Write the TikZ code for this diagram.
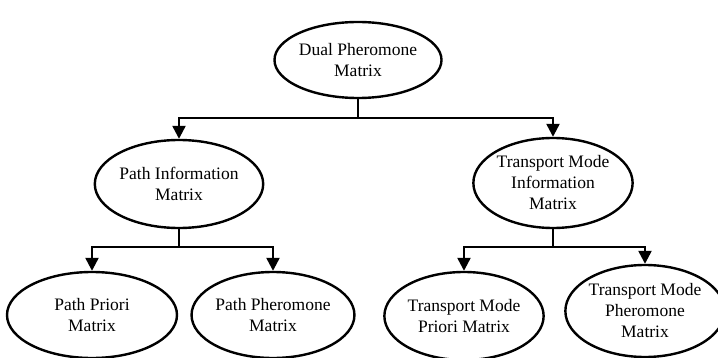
\documentclass[tikz,border=0pt]{standalone}
\usepackage{fontspec}
\setmainfont{Liberation Serif}
\usepackage{tikz}
\usetikzlibrary{arrows.meta}
\usetikzlibrary{shapes.geometric}

\tikzset{
  matbox/.style={draw, ellipse, line width=1.2pt, inner sep=0pt, align=center},
  arr/.style={line width=1.2pt, -{Triangle[length=6.5pt,width=6.5pt]}},
  ln/.style={line width=1.2pt}
}

\begin{document}
\begin{tikzpicture} [x=0.5pt, y=-0.5pt, font=\fontsize{8.75}{10.5}\selectfont]
     \useasboundingbox (0,0) rectangle (718,358);
     \node [matbox, minimum width=71pt, minimum height=38pt] (dual) at (358,60) {Dual Pheromone\\Matrix};
     \node [matbox, minimum width=79pt, minimum height=44pt] (pinfo) at (179,184) {Path Information\\Matrix};
     \node [matbox, minimum width=77.5pt, minimum height=45pt] (tinfo) at (553,183) {Transport Mode\\Information\\Matrix};
     \node [matbox, minimum width=85pt, minimum height=43pt] (ppri) at (92,315) {Path Priori\\Matrix};
     \node [matbox, minimum width=80pt, minimum height=43pt] (pphe) at (273,315) {Path Pheromone\\Matrix};
     \node [matbox, minimum width=79pt, minimum height=44pt] (tpri) at (464,316) {Transport Mode\\Priori Matrix};
     \node [matbox, minimum width=75pt, minimum height=46pt] (tphe) at (645,311) {Transport Mode\\Pheromone\\Matrix};

     \coordinate (bus0) at (358,118);
     \coordinate (bus1) at (179,247);
     \coordinate (bus2) at (553,247);

     \draw [ln] (dual) -- (bus0);
     \draw [arr] (bus0) -| (pinfo);
     \draw [arr] (bus0) -| (tinfo);

     \draw [ln] (pinfo) -- (bus1);
     \draw [arr] (bus1) -| (ppri);
     \draw [arr] (bus1) -| (pphe);

     \draw [ln] (tinfo) -- (bus2);
     \draw [arr] (bus2) -| (tpri);
     \draw [arr] (bus2) -| (tphe);
\end{tikzpicture}
\end{document}
